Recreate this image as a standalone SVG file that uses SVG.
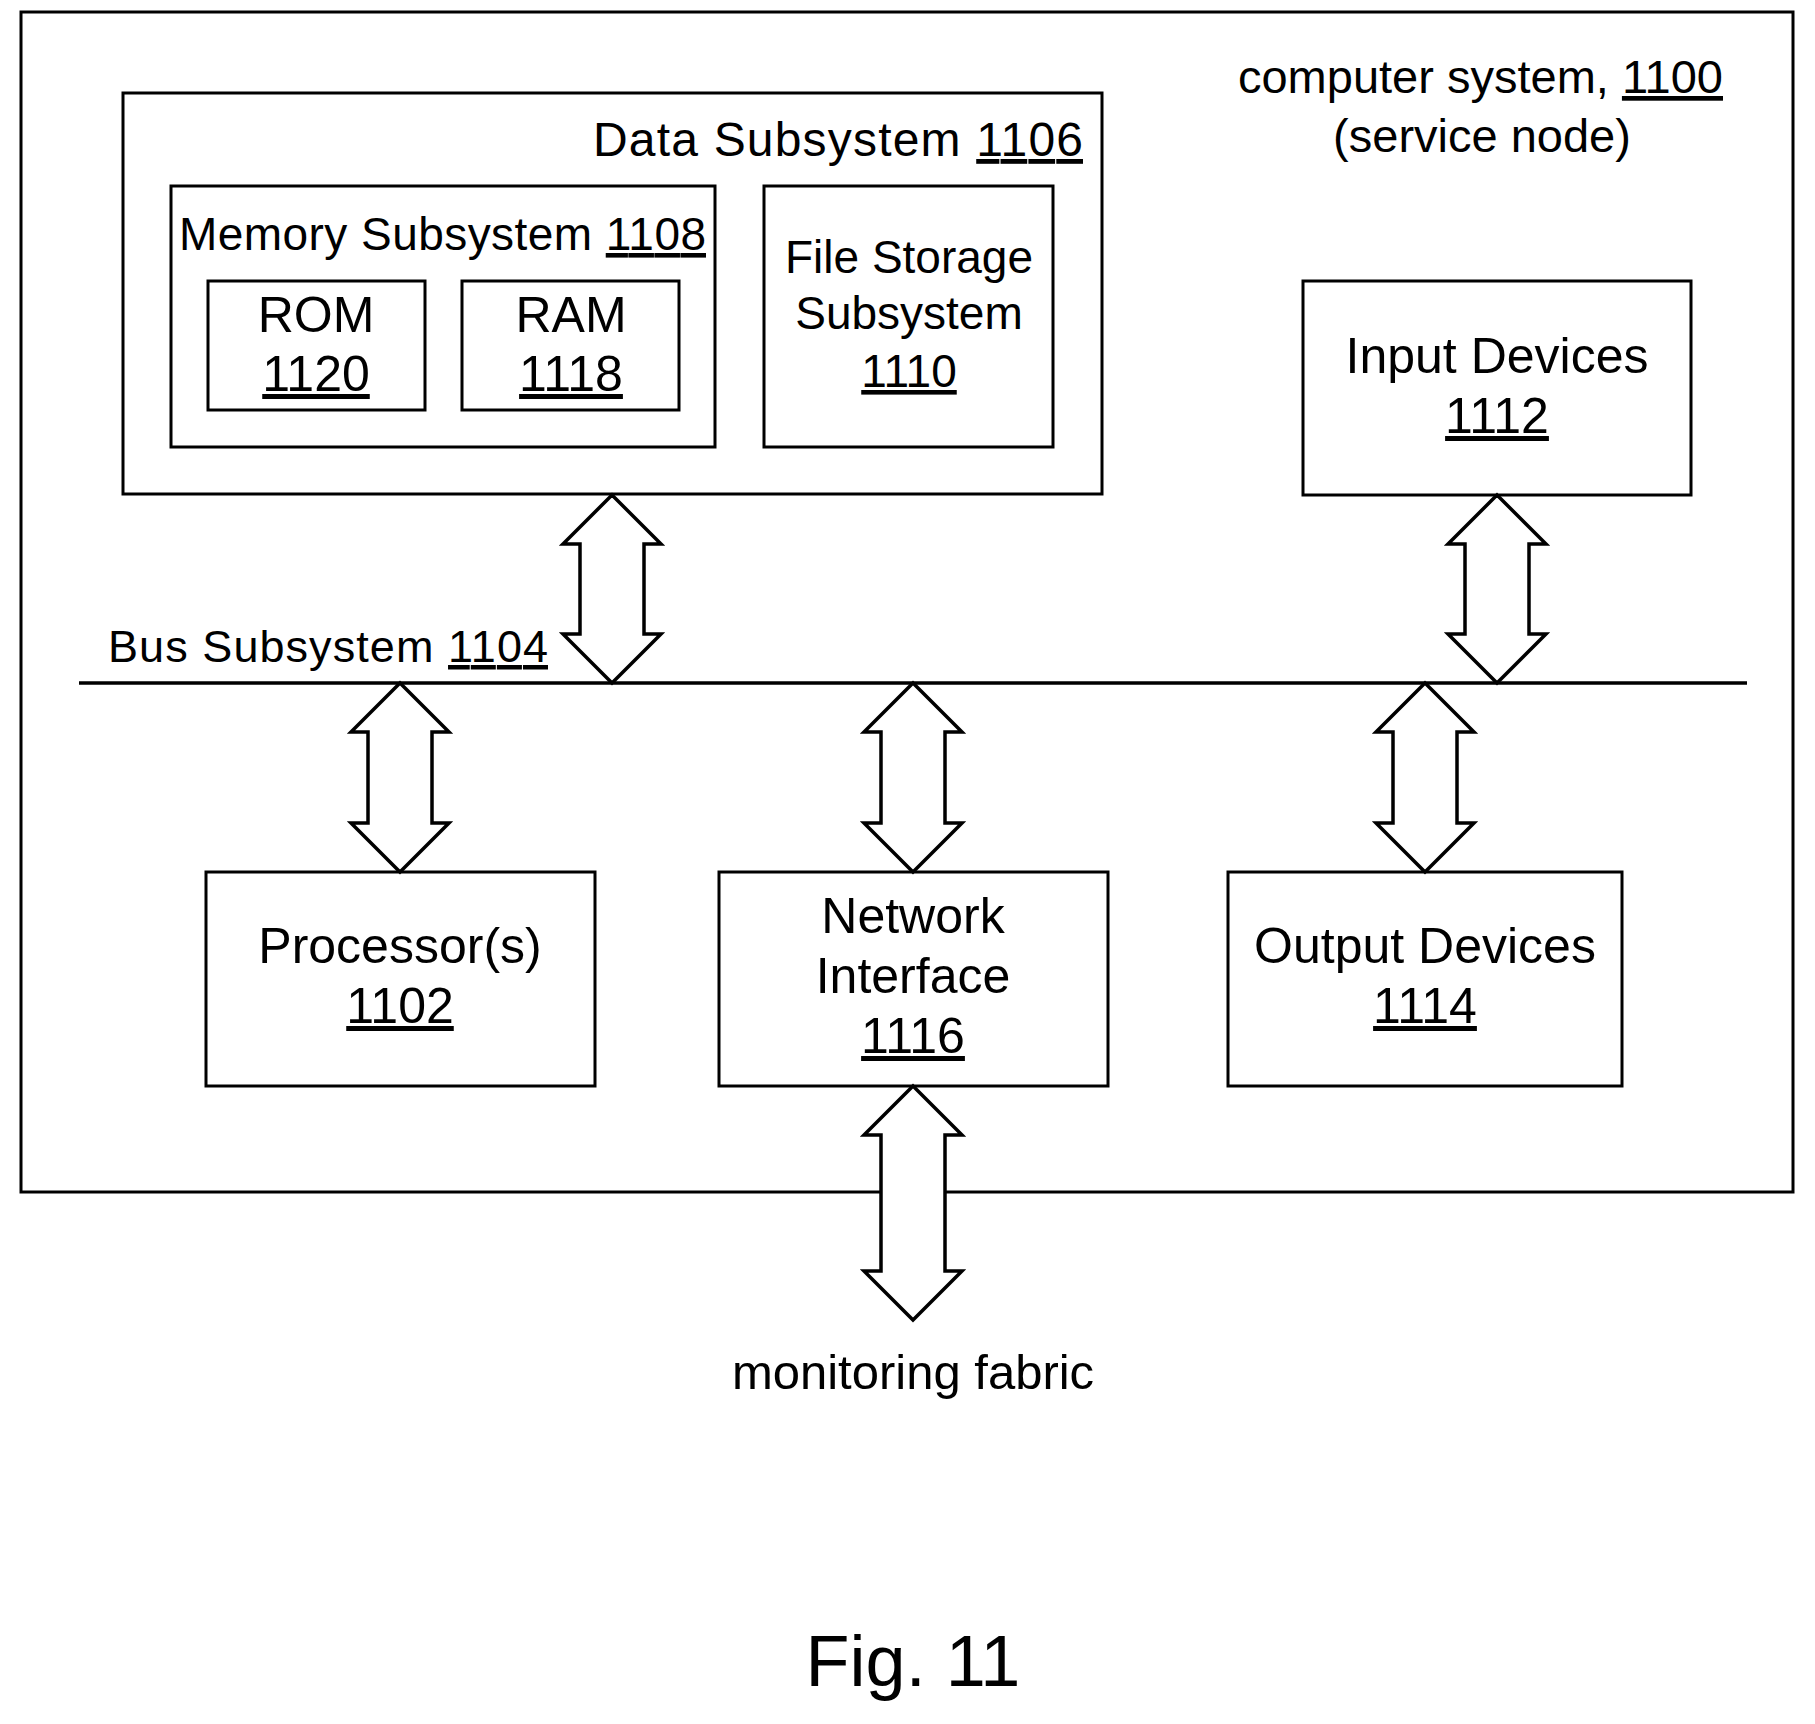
<svg xmlns="http://www.w3.org/2000/svg" width="1815" height="1724" viewBox="0 0 1815 1724">
<style>
rect{fill:#fff;stroke:#000;stroke-width:3}
.a{fill:#fff;stroke:#000;stroke-width:3.5;stroke-linejoin:miter}
text{font-family:"Liberation Sans",Arial,sans-serif;fill:#000}
.m{text-anchor:middle;font-size:50px}
.u{text-decoration:underline}
</style>
<rect x="0" y="0" width="1815" height="1724" style="stroke:none"/>
<g id="system"><rect x="21" y="12" width="1772" height="1180"/>
<text x="1723" y="93" font-size="47" text-anchor="end">computer system, <tspan class="u">1100</tspan></text>
<text x="1482" y="152" font-size="47" text-anchor="middle">(service node)</text></g>
<g id="data"><rect x="123" y="93" width="979" height="401"/>
<text x="1083" y="156" font-size="48" text-anchor="end" textLength="490" lengthAdjust="spacing">Data Subsystem <tspan class="u">1106</tspan></text></g>
<g id="memory"><rect x="171" y="186" width="544" height="261"/>
<text x="179" y="250" font-size="46" textLength="527" lengthAdjust="spacing">Memory Subsystem <tspan class="u">1108</tspan></text></g>
<g id="rom"><rect x="208" y="281" width="217" height="129"/>
<text class="m" x="316" y="332">ROM</text><text class="m u" x="316" y="391">1120</text></g>
<g id="ram"><rect x="462" y="281" width="217" height="129"/>
<text class="m" x="571" y="332">RAM</text><text class="m u" x="571" y="391">1118</text></g>
<g id="file"><rect x="764" y="186" width="289" height="261"/>
<text class="m" x="909" y="273" style="font-size:46px">File Storage</text>
<text class="m" x="909" y="329" style="font-size:46px">Subsystem</text>
<text class="m u" x="909" y="387" style="font-size:46px">1110</text></g>
<g id="input"><rect x="1303" y="281" width="388" height="214"/>
<text class="m" x="1497" y="373">Input Devices</text><text class="m u" x="1497" y="433">1112</text></g>
<g id="bus"><line x1="79" y1="683" x2="1747" y2="683" stroke="#000" stroke-width="3.5"/>
<text x="108" y="662" font-size="45" textLength="440" lengthAdjust="spacing">Bus Subsystem <tspan class="u">1104</tspan></text></g>
<g id="proc"><rect x="206" y="872" width="389" height="214"/>
<text class="m" x="400" y="963">Processor(s)</text><text class="m u" x="400" y="1023">1102</text></g>
<g id="net"><rect x="719" y="872" width="389" height="214"/>
<text class="m" x="913" y="933">Network</text><text class="m" x="913" y="993">Interface</text><text class="m u" x="913" y="1053">1116</text></g>
<g id="out"><rect x="1228" y="872" width="394" height="214"/>
<text class="m" x="1425" y="963">Output Devices</text><text class="m u" x="1425" y="1023">1114</text></g>
<g id="connectors">
<path class="a" d="M612,495 L661,544 L644,544 L644,634 L661,634 L612,683 L563,634 L580,634 L580,544 L563,544 Z"/>
<path class="a" d="M1497,495 L1546,544 L1529,544 L1529,634 L1546,634 L1497,683 L1448,634 L1465,634 L1465,544 L1448,544 Z"/>
<path class="a" d="M400,683 L449,732 L432,732 L432,823 L449,823 L400,872 L351,823 L368,823 L368,732 L351,732 Z"/>
<path class="a" d="M913,683 L962,732 L945,732 L945,823 L962,823 L913,872 L864,823 L881,823 L881,732 L864,732 Z"/>
<path class="a" d="M1425,683 L1474,732 L1457,732 L1457,823 L1474,823 L1425,872 L1376,823 L1393,823 L1393,732 L1376,732 Z"/>
<path class="a" d="M913,1086 L962,1135 L945,1135 L945,1271 L962,1271 L913,1320 L864,1271 L881,1271 L881,1135 L864,1135 Z"/>
</g>
<text class="m" x="913" y="1389" style="font-size:49px">monitoring fabric</text>
<text class="m" x="913" y="1686" style="font-size:72px">Fig. 11</text>
</svg>
